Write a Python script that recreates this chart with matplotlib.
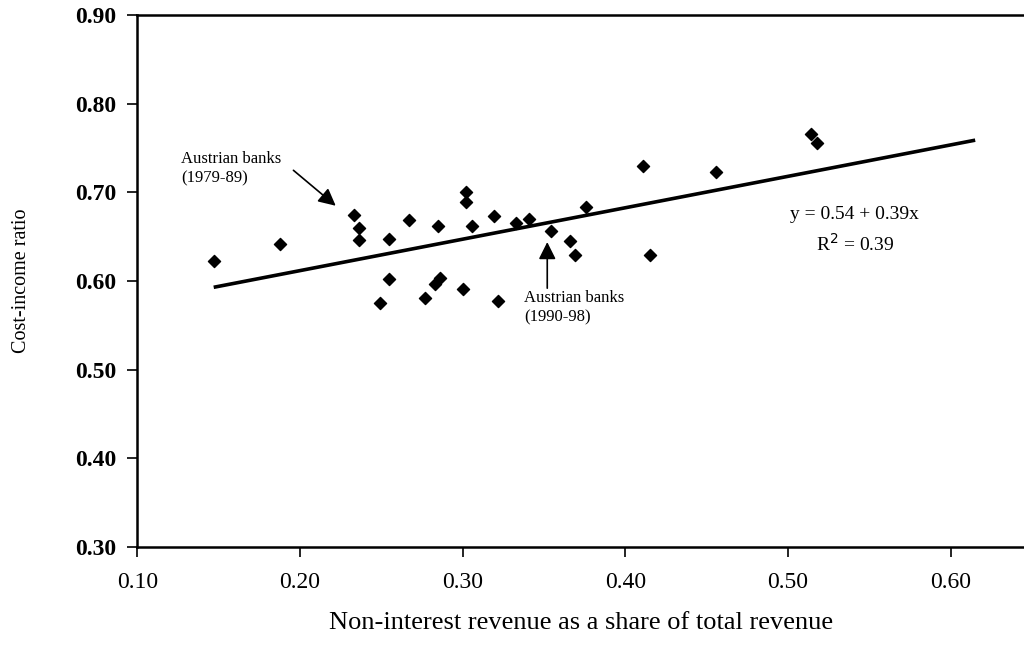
import matplotlib
matplotlib.use("Agg")
import matplotlib.pyplot as plt

# Data
share = [0.147, 0.188, 0.233, 0.236, 0.236, 0.249, 0.255, 0.255, 0.267, 0.277,
         0.283, 0.286, 0.285, 0.300, 0.302, 0.302, 0.306, 0.319, 0.322, 0.333,
         0.341, 0.354, 0.366, 0.369, 0.376, 0.411, 0.415, 0.456, 0.514, 0.518]
cost_income = [0.623, 0.642, 0.675, 0.660, 0.646, 0.575, 0.647, 0.602, 0.669, 0.581,
               0.597, 0.604, 0.662, 0.591, 0.701, 0.689, 0.662, 0.673, 0.577, 0.665,
               0.670, 0.656, 0.645, 0.630, 0.684, 0.730, 0.630, 0.723, 0.766, 0.756]
trend_x = [0.147, 0.615]
trend_y = [0.593, 0.759]
xticks = [0.10, 0.20, 0.30, 0.40, 0.50, 0.60]
yticks = [0.30, 0.40, 0.50, 0.60, 0.70, 0.80, 0.90]

plt.rcParams['font.family'] = ['Liberation Serif', 'DejaVu Serif']

fig = plt.figure(figsize=(10.24, 6.61), dpi=100)
ax = fig.add_axes([0.134, 0.1725, 0.866, 0.8045])

ax.plot(trend_x, trend_y, color='black', lw=2.6, solid_capstyle='butt', zorder=2)
ax.scatter(share, cost_income, marker='D', s=38, color='black', zorder=3)

ax.set_xlim(0.10, 0.645)
ax.set_ylim(0.30, 0.90)
ax.set_xticks(xticks)
ax.set_xticklabels([f"{v:.2f}" for v in xticks])
ax.set_yticks(yticks)
ax.set_yticklabels([f"{v:.2f}" for v in yticks], fontweight='bold')

for side in ['left', 'bottom', 'top']:
    ax.spines[side].set_linewidth(1.8)
ax.spines['right'].set_visible(False)
ax.tick_params(axis='both', direction='out', length=7, width=1.2, labelsize=17, pad=8)
ax.tick_params(axis='x', pad=11)

ax.set_xlabel("Non-interest revenue as a share of total revenue", fontsize=19, labelpad=14)
ax.set_ylabel("Cost-income ratio", fontsize=14.5, labelpad=32)

arrow_style = dict(arrowstyle='-|>', color='black', lw=1.2,
                   mutation_scale=26, shrinkA=0, shrinkB=0)

# 1979-89 annotation
ax.text(0.127, 0.747, "Austrian banks\n(1979-89)", fontsize=12, ha='left', va='top',
        linespacing=1.3)
ax.annotate("", xy=(0.222, 0.685), xytext=(0.196, 0.725), arrowprops=arrow_style)

# 1990-98 annotation
ax.text(0.338, 0.590, "Austrian banks\n(1990-98)", fontsize=12, ha='left', va='top',
        linespacing=1.3)
ax.annotate("", xy=(0.352, 0.644), xytext=(0.352, 0.592), arrowprops=arrow_style)

ax.text(0.541, 0.675, "y = 0.54 + 0.39x", fontsize=14, ha='center', va='center')
ax.text(0.541, 0.642, "R$^2$ = 0.39", fontsize=14, ha='center', va='center')

fig.savefig("out.png", dpi=100)
